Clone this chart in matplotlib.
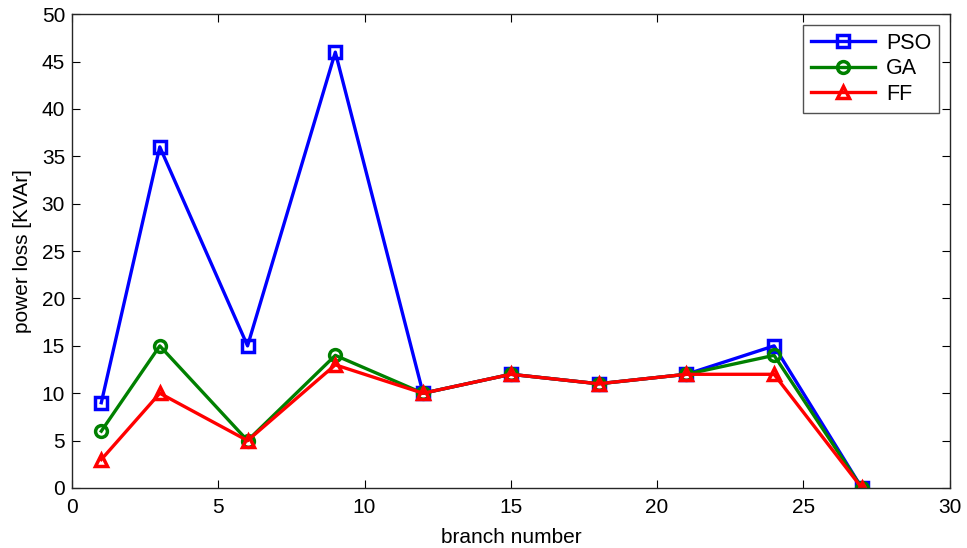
import matplotlib.pyplot as plt

plt.rcParams['font.family'] = ['Liberation Sans', 'DejaVu Sans']

branch = [1, 3, 6, 9, 12, 15, 18, 21, 24, 27]
pso = [9, 36, 15, 46, 10, 12, 11, 12, 15, 0]
ga = [6, 15, 5, 14, 10, 12, 11, 12, 14, 0]
ff = [3, 10, 5, 13, 10, 12, 11, 12, 12, 0]

fig = plt.figure(figsize=(9.67, 5.48), dpi=100)
ax = fig.add_axes([0.0745, 0.1095, 0.9075, 0.8645])

style = dict(linewidth=2.4, markersize=8.5, markeredgewidth=2.5, markerfacecolor='none')
ax.plot(branch, pso, color='#0000ff', marker='s', label='PSO', **style)
ax.plot(branch, ga, color='#008000', marker='o', label='GA', **style)
ax.plot(branch, ff, color='#ff0000', marker='^', label='FF', **style)

ax.set_xlim(0, 30)
ax.set_ylim(0, 50)
ax.set_xticks(range(0, 31, 5))
ax.set_yticks(range(0, 51, 5))
ax.tick_params(direction='in', labelsize=15, top=True, right=True, length=6)
ax.tick_params(axis='x', pad=7)
ax.tick_params(axis='y', pad=5)
for s in ax.spines.values():
    s.set_linewidth(1.0)
    s.set_color('#262626')

ax.set_xlabel('branch number', fontsize=15, labelpad=8)
ax.set_ylabel('power loss [KVAr]', fontsize=15, labelpad=7)

leg = ax.legend(loc='upper right', fontsize=15.5, fancybox=False, edgecolor='#262626',
                handlelength=3.0, handletextpad=0.5, borderaxespad=0.5, labelspacing=0.22,
                borderpad=0.35)
leg.get_frame().set_linewidth(1.0)

plt.savefig('out.png', dpi=100)
